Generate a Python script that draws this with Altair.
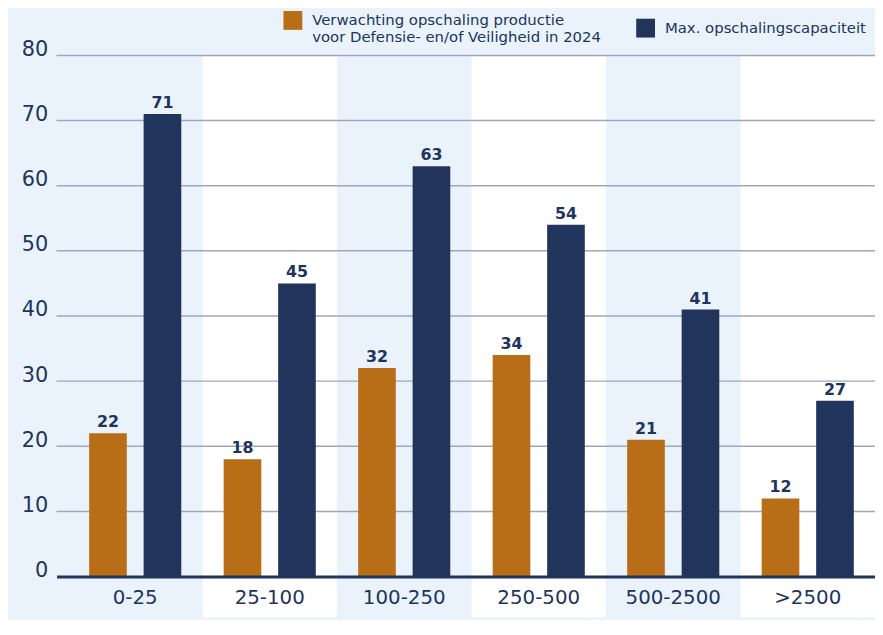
import altair as alt
import pandas as pd

categories = ["0-25", "25-100", "100-250", "250-500", "500-2500", ">2500"]
series = [
    "Verwachting opschaling productie voor Defensie- en/of Veiligheid in 2024",
    "Max. opschalingscapaciteit",
]
verwachting = [22, 18, 32, 34, 21, 12]
max_capaciteit = [71, 45, 63, 54, 41, 27]
y_ticks = [0, 10, 20, 30, 40, 50, 60, 70, 80]
grid_values = [10, 20, 30, 40, 50, 60, 70, 80]
white_bands = ["25-100", "250-500", ">2500"]

ORANGE = "#b86e17"
NAVY = "#21345c"
BG = "#eaf3fb"
GRID = "#a2a4c0"
FONT = "DejaVu Sans"

rows = []
for c, v in zip(categories, verwachting):
    rows.append({"cat": c, "series": series[0], "value": v})
for c, v in zip(categories, max_capaciteit):
    rows.append({"cat": c, "series": series[1], "value": v})
df = pd.DataFrame(rows)
bands_df = pd.DataFrame({"cat": white_bands})
grid_df = pd.DataFrame({"g": grid_values})

W, H = 826, 526
PAD_L, PAD_T, PAD_B = 49, 45, 41

xscale = alt.Scale(domain=categories, paddingInner=0, paddingOuter=0.0424, align=1)
x_enc = alt.X(
    "cat:N",
    scale=xscale,
    sort=categories,
    axis=alt.Axis(
        title=None,
        labelAngle=0,
        ticks=False,
        domainColor=NAVY,
        domainWidth=3,
        labelFont=FONT,
        labelFontSize=20,
        labelColor=NAVY,
        labelPadding=11,
        zindex=1,
    ),
)
yscale = alt.Scale(domain=[0, 80], nice=False)
y_axis = alt.Axis(
    title=None,
    values=y_ticks,
    grid=False,
    domain=False,
    ticks=False,
    labelFont=FONT,
    labelFontSize=21,
    labelColor=NAVY,
    labelPadding=9,
    labelBaseline="alphabetic",
)

bands = alt.Chart(bands_df).mark_rect(color="white").encode(
    x=x_enc,
    y=alt.value(0),
    y2=alt.value(H + PAD_B),
)

grid = alt.Chart(grid_df).mark_rule(color=GRID, strokeWidth=1.5).encode(
    y=alt.Y("g:Q", scale=yscale, axis=y_axis),
)

bars = alt.Chart(df).mark_bar().encode(
    x=x_enc,
    xOffset=alt.XOffset(
        "series:N",
        sort=series,
        scale=alt.Scale(paddingInner=0.309, paddingOuter=0.389),
    ),
    y=alt.Y("value:Q", scale=yscale, axis=y_axis),
    color=alt.Color(
        "series:N",
        sort=series,
        scale=alt.Scale(domain=series, range=[ORANGE, NAVY]),
        legend=alt.Legend(
            title=None,
            orient="none",
            legendX=229,
            legendY=-45,
            direction="horizontal",
            columns=2,
            symbolType="square",
            symbolSize=361,
            symbolStrokeWidth=0,
            symbolOpacity=1,
            labelFont=FONT,
            labelFontSize=15,
            labelColor=NAVY,
            labelLimit=400,
            labelOffset=10,
            columnPadding=35,
            labelExpr="length(datum.label) > 40 ? [substring(datum.label, 0, 32), substring(datum.label, 33)] : datum.label",
        ),
    ),
)

labels = alt.Chart(df).mark_text(
    baseline="alphabetic", dy=-6, fontWeight="bold", fontSize=16, font=FONT, color=NAVY
).encode(
    x=x_enc,
    xOffset=alt.XOffset("series:N", sort=series),
    y=alt.Y("value:Q", scale=yscale, axis=y_axis),
    text=alt.Text("value:Q"),
)

chart = (
    alt.layer(bands, grid, bars, labels)
    .properties(
        width=W,
        height=H,
        background=BG,
        padding={"left": PAD_L, "top": PAD_T, "right": 0, "bottom": PAD_B},
        autosize=alt.AutoSizeParams(type="none"),
    )
    .configure_view(stroke=None)
)

chart.save("out.html", embed_options={"renderer": "svg", "actions": False})
